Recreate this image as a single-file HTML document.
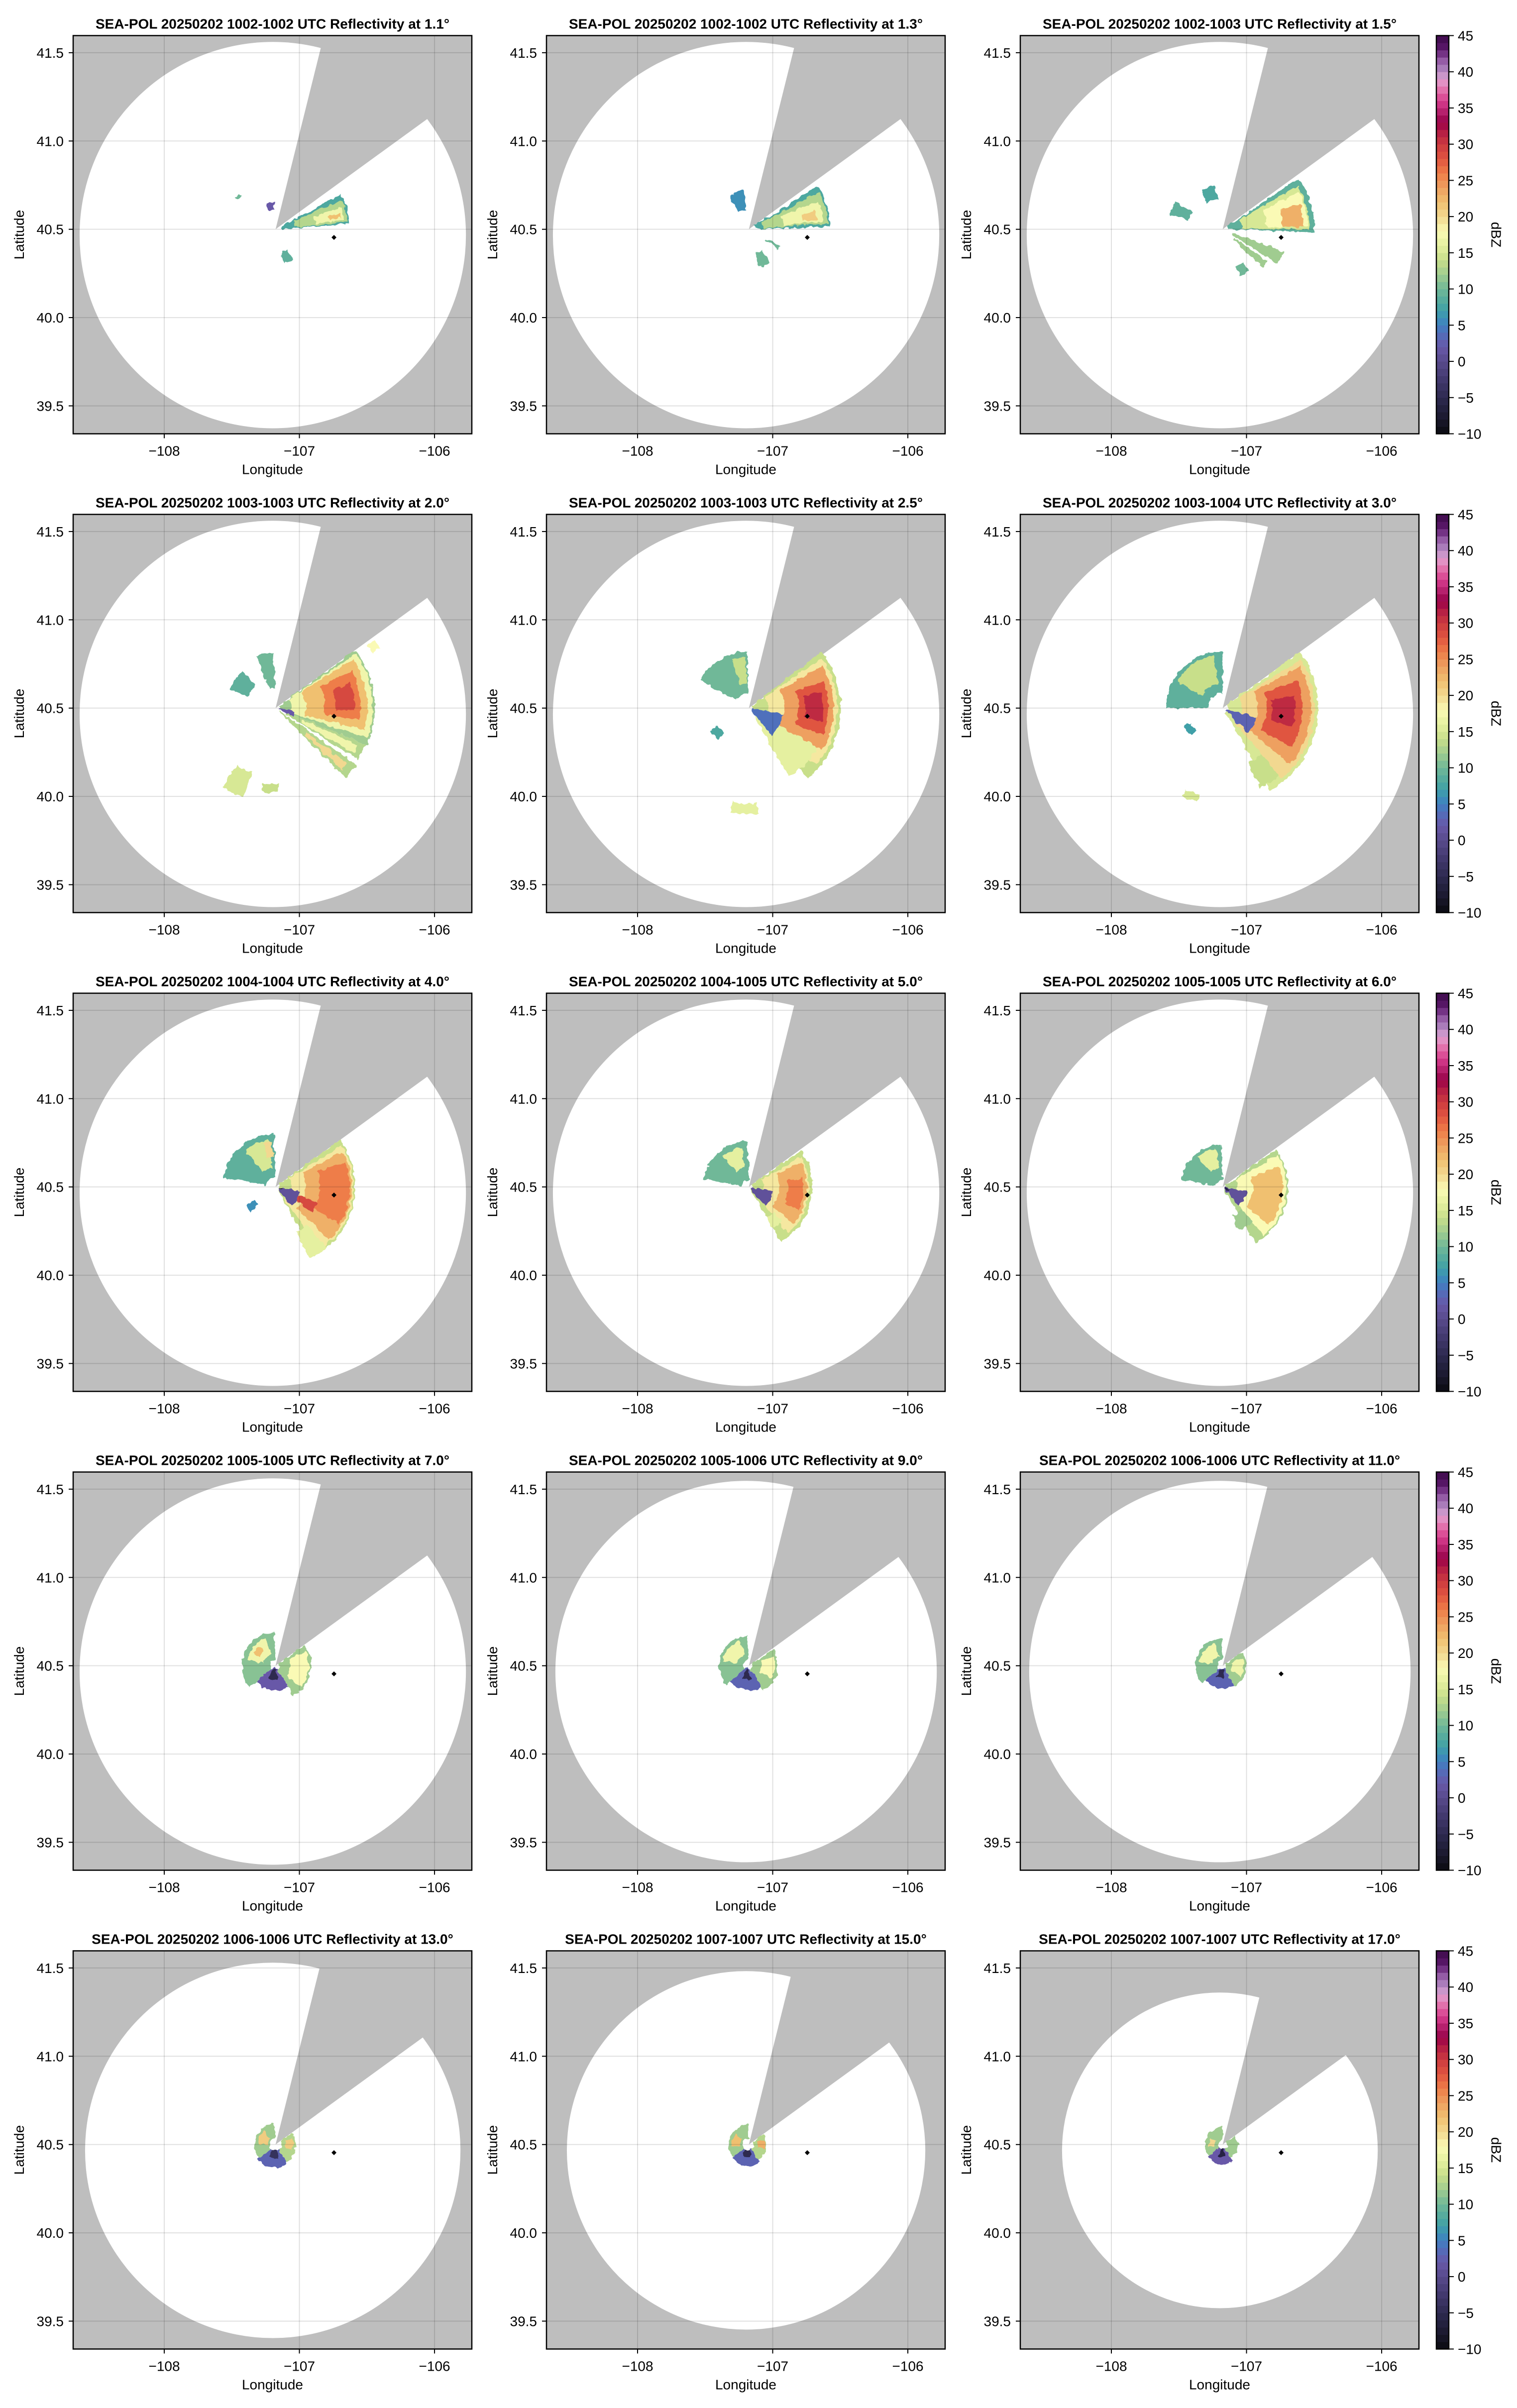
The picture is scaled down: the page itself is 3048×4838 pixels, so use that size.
<!DOCTYPE html>
<html><head><meta charset="utf-8"><title>SEA-POL Reflectivity PPI</title>
<style>
html,body{margin:0;padding:0;background:#fff;}
svg{display:block;font-family:"Liberation Sans",Arial,sans-serif;}
</style></head>
<body>
<svg id="fig" xmlns="http://www.w3.org/2000/svg" width="3048" height="4838" viewBox="0 0 3048 4838">
<defs>
<filter id="rough" x="-10%" y="-10%" width="120%" height="120%">
<feTurbulence type="fractalNoise" baseFrequency="0.09" numOctaves="2" seed="3" result="n"/>
<feDisplacementMap in="SourceGraphic" in2="n" scale="10" xChannelSelector="R" yChannelSelector="G"/>
</filter>
</defs>
<rect x="0" y="0" width="3048" height="4838" fill="#fff"/>
</svg>
<script>
// ---- data ----
const xTicks = [-108, -107, -106];
const yTicks = [39.5, 40.0, 40.5, 41.0, 41.5];
const cbTicks = [-10, -5, 0, 5, 10, 15, 20, 25, 30, 35, 40, 45];
const timeRanges = ["1002-1002","1002-1002","1002-1003","1003-1003","1003-1003","1003-1004","1004-1004","1004-1005","1005-1005","1005-1005","1005-1006","1006-1006","1006-1006","1007-1007","1007-1007"];
const elevations = ["1.1","1.3","1.5","2.0","2.5","3.0","4.0","5.0","6.0","7.0","9.0","11.0","13.0","15.0","17.0"];
// maximum displayed range per sweep (degrees latitude-equivalent)
const rangeDeg = [1.094,1.094,1.094,1.094,1.094,1.094,1.094,1.094,1.094,1.094,1.08,1.08,1.063,1.015,0.894];
const radarLon = -107.176, radarLat = 40.5006;
const coverLon = -107.197, coverLat = 40.467;
const markLon = -106.744, markLat = 40.454;
const blockAz = [14, 54];
// echo patches per sweep: [az start, az end, range start, range end (deg), dBZ]
const echoes = [
 [[62,86,0.04,0.42,8],[66,84,0.11,0.41,13],[72,82,0.23,0.39,17],[76,80,0.31,0.37,22],[150,166,0.13,0.2,9],[340,358,0.11,0.155,2],[308,314,0.27,0.29,10]],
 [[58,88,0.035,0.46,8],[62,86,0.085,0.45,13],[68,84,0.2,0.42,17],[74,82,0.31,0.39,21],[118,124,0.11,0.2,10],[148,166,0.14,0.22,10],[330,352,0.11,0.22,6]],
 [[56,92,0.03,0.52,9],[60,90,0.11,0.49,15],[64,88,0.25,0.48,18],[72,88,0.34,0.46,23],[110,122,0.06,0.37,12],[126,134,0.085,0.31,12],[148,160,0.22,0.28,10],[330,350,0.17,0.25,8],[285,300,0.2,0.31,9]],
 [[54,112,0.02,0.56,12],[56,108,0.085,0.55,17],[58,104,0.17,0.52,22],[64,98,0.28,0.48,26],[72,92,0.34,0.45,29],[112,122,0.06,0.55,13],[114,120,0.17,0.51,17],[125,135,0.03,0.56,13],[128,133,0.22,0.51,20],[340,358,0.11,0.31,10],[292,318,0.17,0.28,9],[200,214,0.39,0.54,15],[178,190,0.43,0.48,14],[100,116,0.015,0.11,2],[56,60,0.63,0.68,18]],
 [[52,140,0.02,0.52,14],[56,130,0.11,0.5,19],[60,120,0.2,0.48,24],[70,110,0.28,0.45,28],[78,100,0.32,0.42,31],[120,150,0.06,0.45,16],[100,140,0.02,0.2,4],[300,358,0.085,0.32,10],[340,356,0.14,0.29,14],[225,240,0.2,0.25,8],[175,190,0.54,0.6,16]],
 [[54,150,0.03,0.54,15],[58,140,0.11,0.52,20],[62,130,0.2,0.5,24],[70,120,0.25,0.45,28],[80,105,0.28,0.41,31],[140,155,0.34,0.5,14],[105,135,0.02,0.2,3],[270,360,0.085,0.32,9],[300,350,0.14,0.3,14],[230,245,0.2,0.24,7],[195,205,0.51,0.55,15]],
 [[54,150,0.02,0.45,14],[58,145,0.085,0.44,19],[62,135,0.17,0.43,23],[70,120,0.25,0.42,26],[110,125,0.14,0.25,29],[140,155,0.28,0.45,16],[100,140,0.02,0.14,1],[100,110,0.015,0.04,-8],[280,358,0.055,0.3,9],[320,350,0.11,0.27,15],[345,355,0.17,0.26,20],[225,238,0.14,0.2,6]],
 [[55,150,0.02,0.36,14],[60,140,0.085,0.34,19],[65,130,0.17,0.33,23],[80,115,0.22,0.31,26],[100,140,0.015,0.14,1],[280,358,0.04,0.26,10],[320,350,0.11,0.23,16],[135,150,0.2,0.27,16]],
 [[55,150,0.02,0.37,13],[60,140,0.085,0.36,18],[70,130,0.17,0.34,22],[100,140,0.015,0.14,1],[110,130,0.015,0.04,-6],[280,358,0.04,0.24,10],[320,350,0.11,0.22,16],[140,160,0.17,0.26,12]],
 [[55,150,0.02,0.2,12],[65,130,0.085,0.19,18],[150,230,0.015,0.14,2],[170,210,0.02,0.08,-5],[230,358,0.03,0.19,11],[280,340,0.07,0.165,17],[300,320,0.1,0.15,22]],
 [[55,150,0.02,0.165,12],[70,120,0.07,0.15,18],[150,230,0.015,0.14,3],[170,210,0.02,0.08,-5],[230,358,0.03,0.17,11],[280,340,0.07,0.15,17]],
 [[55,150,0.02,0.135,12],[70,120,0.055,0.12,17],[150,230,0.015,0.13,3],[170,210,0.02,0.075,-5],[230,358,0.03,0.155,11],[280,340,0.055,0.135,17]],
 [[55,150,0.034,0.115,13],[70,110,0.055,0.1,21],[150,230,0.034,0.13,3],[170,210,0.034,0.08,-4],[230,358,0.034,0.12,12],[270,320,0.05,0.1,21]],
 [[55,150,0.034,0.1,13],[75,105,0.05,0.095,23],[150,230,0.034,0.12,3],[170,210,0.034,0.075,-5],[230,358,0.034,0.115,12],[260,310,0.05,0.095,22]],
 [[55,150,0.028,0.088,12],[150,230,0.028,0.11,2],[170,205,0.028,0.07,-6],[230,358,0.028,0.1,12],[260,300,0.045,0.08,20]]
];
// colormap stops (dBZ, colour)
const cmapVals = [-10,-8,-6,-4,-2,0,2,4,5,6,7,8,10,12,14,16,18,19,20,22,24,26,28,30,32,33,34,35,36,37,38,39,40,41,42,43,45];
const cmapCols = ["#0a0a10","#1a182c","#262444","#36305c","#463c74","#584a8c","#6858a8","#5070bc","#4080c0","#3e90b8","#40a0a8","#4ea8a0","#70b898","#a0cc90","#c8df8a","#e5f0a0","#fafab5","#f5e8a0","#f2d890","#f0c070","#eea060","#ee7d48","#e05540","#cc3a40","#b01845","#9a0048","#a8185f","#c42a7a","#d63d8e","#e0609f","#e382b8","#e0a0d0","#b48cc4","#a06bb0","#8a4c9c","#5e1a6e","#3d0a4a"];

// ---- layout ----
const NS = "http://www.w3.org/2000/svg";
const svg = document.getElementById("fig");
const colLeft = [147, 1098, 2050], rowTop0 = 71.5, rowPitch = 962, PW = 801, PH = 800;
const lonMin = -108.674, lonMax = -105.724, latMin = 39.342, latMax = 41.597;
const degPx = PH / (latMax - latMin);

function el(tag, attrs, parent) {
  const e = document.createElementNS(NS, tag);
  for (const k in attrs) e.setAttribute(k, attrs[k]);
  (parent || svg).appendChild(e);
  return e;
}
function hex2rgb(h){return [parseInt(h.slice(1,3),16),parseInt(h.slice(3,5),16),parseInt(h.slice(5,7),16)];}
function dbzColor(v){
  if (v <= cmapVals[0]) return cmapCols[0];
  for (let i=1;i<cmapVals.length;i++){
    if (v <= cmapVals[i]){
      const t=(v-cmapVals[i-1])/(cmapVals[i]-cmapVals[i-1]);
      const a=hex2rgb(cmapCols[i-1]), b=hex2rgb(cmapCols[i]);
      return "rgb("+a.map((c,j)=>Math.round(c+(b[j]-c)*t)).join(",")+")";
    }
  }
  return cmapCols[cmapCols.length-1];
}
function fmtMinus(v, d){ const s = Math.abs(v).toFixed(d); return (v<0?"\u2212":"")+s; }

for (let p = 0; p < 15; p++) {
  const col = p % 3, row = Math.floor(p / 3);
  const L = colLeft[col], T = rowTop0 + row * rowPitch;
  const sx = lon => L + (lon - lonMin) / (lonMax - lonMin) * PW;
  const sy = lat => T + (latMax - lat) / (latMax - latMin) * PH;
  const g = el("g", {});
  
  
  const clipId = "clip" + p;
  const cp = el("clipPath", {id: clipId}, g);
  el("rect", {x: L, y: T, width: PW, height: PH}, cp);
  const plot = el("g", {"clip-path": "url(#" + clipId + ")"}, g);
  
  
  const bg = el("rect", {x: L, y: T, width: PW, height: PH, fill: "#bebebe"}, plot);
  
  
  const cx = sx(coverLon), cy = sy(coverLat), R = rangeDeg[p] * degPx;
  const cov = el("circle", {cx: cx, cy: cy, r: R, fill: "#fff"}, plot);
  
  
  const ax = sx(radarLon), ay = sy(radarLat);
  const far = 2000;
  const a0 = blockAz[0] * Math.PI / 180, a1 = blockAz[1] * Math.PI / 180;
  const wedge = el("path", {d: `M${ax},${ay} L${ax+far*Math.sin(a0)},${ay-far*Math.cos(a0)} L${ax+far*Math.sin(a1)},${ay-far*Math.cos(a1)} Z`, fill: "#bebebe"}, plot);
  
  
  const eg = el("g", {filter: "url(#rough)"}, plot);
  
  
  echoes[p].forEach(e => {
    const [z0, z1, r0d, r1d, v] = e;
    const r0 = r0d * degPx, r1 = r1d * degPx;
    const b0 = z0 * Math.PI / 180, b1 = z1 * Math.PI / 180;
    const large = (z1 - z0) > 180 ? 1 : 0;
    const P = (r, b) => [ax + r * Math.sin(b), ay - r * Math.cos(b)];
    const p0 = P(r1, b0), p1 = P(r1, b1), p2 = P(r0, b1), p3 = P(r0, b0);
    const path = el("path", {d: `M${p0} A${r1},${r1} 0 ${large} 1 ${p1} L${p2} A${r0},${r0} 0 ${large} 0 ${p3} Z`, fill: dbzColor(v)}, eg);
    
    
  });
  xTicks.forEach(t => {
    const gl = el("line", {x1: sx(t), x2: sx(t), y1: T, y2: T + PH, stroke: "#000", "stroke-opacity": 0.12, "stroke-width": 2}, plot);
    
    
  });
  yTicks.forEach(t => {
    const gl = el("line", {x1: L, x2: L + PW, y1: sy(t), y2: sy(t), stroke: "#000", "stroke-opacity": 0.12, "stroke-width": 2}, plot);
    
    
  });
  const mx = sx(markLon), my = sy(markLat);
  const mk = el("path", {d: `M${mx},${my-5} L${mx+5},${my} L${mx},${my+5} L${mx-5},${my} Z`, fill: "#000"}, plot);
  
  
  const fr = el("rect", {x: L, y: T, width: PW, height: PH, fill: "none", stroke: "#000", "stroke-width": 2.5}, g);
  
  
  xTicks.forEach(t => {
    el("line", {x1: sx(t), x2: sx(t), y1: T + PH, y2: T + PH + 9, stroke: "#000", "stroke-width": 2}, g);
    const tx = el("text", {x: sx(t), y: T + PH + 44, "font-size": 28, "text-anchor": "middle", fill: "#000"}, g);
    tx.textContent = fmtMinus(t, 0);
    
    
  });
  yTicks.forEach(t => {
    el("line", {x1: L - 9, x2: L, y1: sy(t), y2: sy(t), stroke: "#000", "stroke-width": 2}, g);
    const tx = el("text", {x: L - 19, y: sy(t) + 10, "font-size": 28, "text-anchor": "end", fill: "#000"}, g);
    tx.textContent = t.toFixed(1);
    
    
  });
  const xl = el("text", {x: L + PW / 2, y: T + PH + 81, "font-size": 28, "text-anchor": "middle", fill: "#000"}, g);
  xl.textContent = "Longitude";
  
  
  const ylx = L - 99, yly = T + PH / 2;
  const yl = el("text", {x: ylx, y: yly, "font-size": 28, "text-anchor": "middle", transform: `rotate(-90 ${ylx} ${yly})`, fill: "#000"}, g);
  yl.textContent = "Latitude";
  
  
  const ti = el("text", {x: L + PW / 2, y: T - 14, "font-size": 28, "font-weight": "bold", "text-anchor": "middle", fill: "#000"}, g);
  ti.textContent = `SEA-POL 20250202 ${timeRanges[p]} UTC Reflectivity at ${elevations[p]}°`;
  
  

  if (col === 2) {
    const cb = el("g", {});
    
    
    const cbx = 2886, cbw = 25, vmin = -10, vmax = 45;
    const cyv = v => T + (vmax - v) / (vmax - vmin) * PH;
    for (let v = vmin; v < vmax; v++) {
      const r = el("rect", {x: cbx, y: cyv(v + 1), width: cbw, height: cyv(v) - cyv(v + 1) + 0.6, fill: dbzColor(v + 0.5)}, cb);
      
      
    }
    el("rect", {x: cbx, y: T, width: cbw, height: PH, fill: "none", stroke: "#000", "stroke-width": 2.5}, cb);
    cbTicks.forEach(t => {
      el("line", {x1: cbx + cbw, x2: cbx + cbw + 10, y1: cyv(t), y2: cyv(t), stroke: "#000", "stroke-width": 2}, cb);
      const tx = el("text", {x: 2929, y: cyv(t) + 10, "font-size": 28, fill: "#000"}, cb);
      tx.textContent = fmtMinus(t, 0);
      
      
    });
    const lx = 3004, ly = T + PH / 2;
    const lb = el("text", {x: lx, y: ly, "font-size": 28, "text-anchor": "middle", "dominant-baseline": "middle", transform: `rotate(90 ${lx} ${ly})`, fill: "#000"}, cb);
    lb.textContent = "dBZ";
    
    
  }
}
</script>
</body></html>
